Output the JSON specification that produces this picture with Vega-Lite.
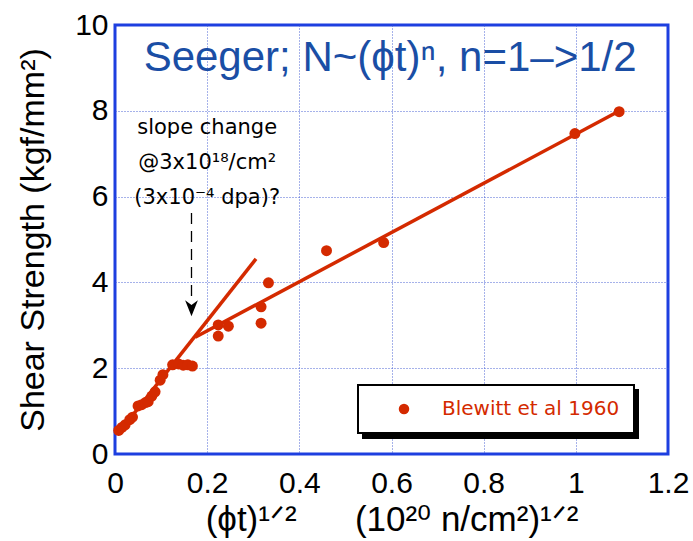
{
  "$schema": "https://vega.github.io/schema/vega-lite/v6.json",
  "width": 553,
  "height": 429,
  "autosize": {"type": "none"},
  "padding": {"left": 115, "top": 25, "right": 25, "bottom": 87},
  "background": "white",
  "config": {
    "view": {"stroke": "#1d3fe0", "strokeWidth": 3},
    "font": "Liberation Sans",
    "axis": {
      "labelFont": "Liberation Sans",
      "titleFont": "Liberation Sans",
      "labelColor": "black",
      "titleColor": "black",
      "titleFontWeight": "normal",
      "tickColor": "#1d3fe0",
      "tickWidth": 2,
      "tickSize": 0,
      "domain": false,
      "grid": false,
      "labelFlush": false,
      "gridColor": "#3a55d0",
      "gridDash": [1, 2],
      "gridWidth": 1,
      "gridOpacity": 0.9
    },
    "legend": {
      "orient": "none",
      "strokeWidth": 2,
      "padding": 14,
      "symbolOffset": 22,
      "labelOffset": 28,
      "labelFont": "DejaVu Sans",
      "labelFontSize": 20,
      "labelLimit": 400,
      "symbolSize": 110,
      "symbolType": "circle",
      "symbolStrokeWidth": 0
    }
  },
  "datasets": {
    "blewitt": [
      {"phi_t": 0.008, "strength": 0.55, "source": "Blewitt et al 1960"},
      {"phi_t": 0.015, "strength": 0.62, "source": "Blewitt et al 1960"},
      {"phi_t": 0.022, "strength": 0.68, "source": "Blewitt et al 1960"},
      {"phi_t": 0.032, "strength": 0.80, "source": "Blewitt et al 1960"},
      {"phi_t": 0.038, "strength": 0.86, "source": "Blewitt et al 1960"},
      {"phi_t": 0.050, "strength": 1.12, "source": "Blewitt et al 1960"},
      {"phi_t": 0.058, "strength": 1.15, "source": "Blewitt et al 1960"},
      {"phi_t": 0.066, "strength": 1.20, "source": "Blewitt et al 1960"},
      {"phi_t": 0.072, "strength": 1.22, "source": "Blewitt et al 1960"},
      {"phi_t": 0.080, "strength": 1.35, "source": "Blewitt et al 1960"},
      {"phi_t": 0.087, "strength": 1.45, "source": "Blewitt et al 1960"},
      {"phi_t": 0.098, "strength": 1.72, "source": "Blewitt et al 1960"},
      {"phi_t": 0.104, "strength": 1.85, "source": "Blewitt et al 1960"},
      {"phi_t": 0.125, "strength": 2.08, "source": "Blewitt et al 1960"},
      {"phi_t": 0.138, "strength": 2.10, "source": "Blewitt et al 1960"},
      {"phi_t": 0.148, "strength": 2.07, "source": "Blewitt et al 1960"},
      {"phi_t": 0.158, "strength": 2.08, "source": "Blewitt et al 1960"},
      {"phi_t": 0.168, "strength": 2.05, "source": "Blewitt et al 1960"},
      {"phi_t": 0.224, "strength": 3.01, "source": "Blewitt et al 1960"},
      {"phi_t": 0.224, "strength": 2.75, "source": "Blewitt et al 1960"},
      {"phi_t": 0.246, "strength": 2.98, "source": "Blewitt et al 1960"},
      {"phi_t": 0.317, "strength": 3.05, "source": "Blewitt et al 1960"},
      {"phi_t": 0.317, "strength": 3.43, "source": "Blewitt et al 1960"},
      {"phi_t": 0.333, "strength": 3.99, "source": "Blewitt et al 1960"},
      {"phi_t": 0.459, "strength": 4.74, "source": "Blewitt et al 1960"},
      {"phi_t": 0.583, "strength": 4.93, "source": "Blewitt et al 1960"},
      {"phi_t": 0.998, "strength": 7.47, "source": "Blewitt et al 1960"},
      {"phi_t": 1.094, "strength": 7.98, "source": "Blewitt et al 1960"}
    ],
    "fits": [
      {"segment": "n=1", "phi_t": 0.005, "strength": 0.45},
      {"segment": "n=1", "phi_t": 0.306, "strength": 4.55},
      {"segment": "n=1/2", "phi_t": 0.174, "strength": 2.72},
      {"segment": "n=1/2", "phi_t": 1.095, "strength": 8.0}
    ],
    "notes": [
      {"phi_t": 0.2, "strength": 7.6, "text": "slope change"},
      {"phi_t": 0.2, "strength": 6.78, "text": "@3x10¹⁸/cm²"},
      {"phi_t": 0.2, "strength": 5.96, "text": "(3x10⁻⁴ dpa)?"}
    ],
    "arrow": [
      {"phi_t": 0.166, "from": 5.62, "to": 3.55, "tip": 3.4}
    ],
    "heading": [
      {"phi_t": 0.597, "strength": 9.22, "text": "Seeger; N~(ϕt)ⁿ, n=1–>1/2"}
    ]
  },
  "layer": [
    {
      "data": {"name": "notes"},
      "mark": {"type": "text", "font": "DejaVu Sans", "fontSize": 21, "color": "black", "align": "center", "baseline": "middle"},
      "encoding": {
        "x": {
          "field": "phi_t", "type": "quantitative",
          "scale": {"domain": [0, 1.2], "nice": false, "zero": false},
          "axis": {"orient": "bottom", "values": [0.2, 0.4, 0.6, 0.8, 1], "grid": true, "ticks": false, "labels": false, "title": null}
        },
        "y": {
          "field": "strength", "type": "quantitative",
          "scale": {"domain": [0, 10], "nice": false, "zero": false},
          "axis": {"orient": "left", "values": [2, 4, 6, 8], "grid": true, "ticks": false, "labels": false, "title": null}
        },
        "text": {"field": "text"},
        "opacity": {
          "datum": "Blewitt et al 1960",
          "type": "nominal",
          "scale": {"range": [1]},
          "legend": {
            "title": null,
            "legendX": 248,
            "legendY": 365,
            "zindex": 1,
            "fillColor": "black",
            "strokeColor": "black",
            "labelColor": "black",
            "symbolFillColor": "black",
            "symbolOffset": 199,
            "labelExpr": "''"
          }
        }
      }
    },
    {
      "data": {"name": "fits"},
      "mark": {"type": "line", "color": "#d42a00", "strokeWidth": 3.5},
      "encoding": {
        "x": {
          "field": "phi_t", "type": "quantitative",
          "axis": {
            "orient": "top", "labels": false, "title": null,
            "values": [0,0.05,0.1,0.15,0.2,0.25,0.3,0.35,0.4,0.45,0.5,0.55,0.6,0.65,0.7,0.75,0.8,0.85,0.9,0.95,1,1.05,1.1,1.15,1.2],
            "encode": {"ticks": {"update": {"y2": {"signal": "abs(datum.value*5-round(datum.value*5))<0.001 ? 11 : 6"}}}}
          }
        },
        "y": {
          "field": "strength", "type": "quantitative",
          "axis": {
            "orient": "right", "labels": false, "title": null,
            "values": [0,0.5,1,1.5,2,2.5,3,3.5,4,4.5,5,5.5,6,6.5,7,7.5,8,8.5,9,9.5,10],
            "encode": {"ticks": {"update": {"x2": {"signal": "abs(datum.value/2-round(datum.value/2))<0.001 ? -12 : -7"}}}}
          }
        },
        "detail": {"field": "segment"}
      }
    },
    {
      "data": {"name": "blewitt"},
      "mark": {"type": "point", "filled": true, "opacity": 1, "size": 120, "shape": "circle"},
      "encoding": {
        "x": {
          "field": "phi_t", "type": "quantitative",
          "axis": {
            "orient": "bottom",
            "values": [0,0.05,0.1,0.15,0.2,0.25,0.3,0.35,0.4,0.45,0.5,0.55,0.6,0.65,0.7,0.75,0.8,0.85,0.9,0.95,1,1.05,1.1,1.15,1.2],
            "labelExpr": "abs(datum.value*5-round(datum.value*5))<0.001 ? format(datum.value, '~g') : ''",
            "labelFontSize": 30,
            "labelPadding": 14,
            "labelOverlap": false,
            "title": "(ϕt)¹ᐟ²\u00a0\u00a0\u00a0\u00a0\u00a0\u00a0(10²⁰ n/cm²)¹ᐟ²",
            "titleFontSize": 35,
            "titlePadding": 4,
            "encode": {
              "ticks": {"update": {"y2": {"signal": "abs(datum.value*5-round(datum.value*5))<0.001 ? -11 : -6"}}}
            }
          }
        },
        "y": {
          "field": "strength", "type": "quantitative",
          "axis": {
            "orient": "left",
            "values": [0,0.5,1,1.5,2,2.5,3,3.5,4,4.5,5,5.5,6,6.5,7,7.5,8,8.5,9,9.5,10],
            "labelExpr": "abs(datum.value/2-round(datum.value/2))<0.001 ? format(datum.value, 'd') : ''",
            "labelFontSize": 30,
            "labelPadding": 7,
            "labelOverlap": false,
            "title": "Shear Strength (kgf/mm²)",
            "titleFontSize": 34,
            "titlePadding": 24,
            "encode": {
              "ticks": {"update": {"x2": {"signal": "abs(datum.value/2-round(datum.value/2))<0.001 ? 12 : 7"}}}
            }
          }
        },
        "color": {
          "field": "source", "type": "nominal",
          "scale": {"range": ["#d42a00"]},
          "legend": {
            "title": null,
            "legendX": 243,
            "legendY": 360,
            "zindex": 2,
            "fillColor": "white",
            "strokeColor": "black",
            "labelColor": "#d42a00",
            "labelExpr": "datum.label + '\u00a0\u00a0\u00a0\u00a0\u00a0'"
          }
        }
      }
    },
    {
      "data": {"name": "arrow"},
      "mark": {"type": "rule", "color": "black", "strokeWidth": 1.3, "strokeDash": [11, 7]},
      "encoding": {
        "x": {"field": "phi_t", "type": "quantitative", "axis": null},
        "y": {"field": "from", "type": "quantitative", "axis": null},
        "y2": {"field": "to"}
      }
    },
    {
      "data": {"name": "arrow"},
      "mark": {"type": "point", "shape": "M0,1 L-0.8,-1 L0,-0.4 L0.8,-1 Z", "filled": true, "color": "black", "opacity": 1, "size": 256, "strokeWidth": 0},
      "encoding": {
        "x": {"field": "phi_t", "type": "quantitative", "axis": null},
        "y": {"field": "tip", "type": "quantitative", "axis": null}
      }
    },
    {
      "data": {"name": "heading"},
      "mark": {"type": "text", "font": "Liberation Sans", "fontSize": 42, "color": "#1a4ea5", "align": "center", "baseline": "middle"},
      "encoding": {
        "x": {"field": "phi_t", "type": "quantitative", "axis": null},
        "y": {"field": "strength", "type": "quantitative", "axis": null},
        "text": {"field": "text"}
      }
    }
  ],
  "resolve": {"axis": {"x": "independent", "y": "independent"}}
}
